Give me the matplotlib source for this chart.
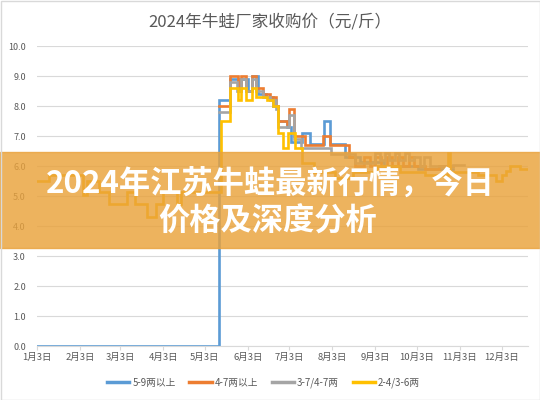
import numpy as np
import pandas as pd
import matplotlib
matplotlib.use('Agg')
import matplotlib.pyplot as plt
from matplotlib.patches import Rectangle
from matplotlib.lines import Line2D

plt.rcParams['font.family'] = ['Noto Sans CJK SC', 'DejaVu Sans']

title = '2024年牛蛙厂家收购价（元/斤）'
banner_line1 = '2024年江苏牛蛙最新行情，今日'
banner_line2 = '价格及深度分析'
series_names = ['5-9两以上', '4-7两以上', '3-7/4-7两', '2-4/3-6两']
colors = ['#5B9BD5', '#ED7D31', '#A5A5A5', '#FFC000']
tick_months = list(range(1, 13))

# days counted from Jan 3 where the price changes, and the new price
blue_days = [0, 131, 139, 145, 147, 152, 155, 159, 165, 170, 174, 180, 183,
             191, 197, 207, 211, 222, 233, 250, 275, 300]
blue_vals = [0.0, 8.2, 8.9, 8.5, 8.9, 8.5, 9.0, 8.4, 8.3, 8.0, 7.5, 7.3, 6.8,
             7.1, 6.75, 7.5, 6.75, 6.3, 6.15, 6.0, 5.9, 5.9]

orange_days = [131, 139, 145, 147, 151, 155, 158, 163, 168, 172, 174, 180, 182,
               185, 193, 206, 211, 225, 229, 236, 240, 244, 248, 252, 256, 260,
               264, 268, 272, 280, 290, 300]
orange_vals = [8.0, 9.0, 8.5, 9.0, 8.5, 9.0, 8.6, 8.4, 8.3, 8.0, 7.5, 7.4, 7.9,
               7.0, 6.7, 7.0, 6.7, 6.3, 6.0, 6.3, 6.0, 6.3, 6.0, 6.3, 6.0, 6.3,
               6.0, 6.3, 6.0, 5.9, 6.0, 6.0]

gray_days = [131, 139, 144, 147, 151, 155, 158, 163, 168, 172, 174, 180, 182,
             185, 190, 212, 229, 244, 247, 251, 254, 258, 261, 265, 268, 272,
             276, 279, 283, 290, 300, 308]
gray_vals = [7.8, 8.8, 8.5, 8.9, 8.5, 8.9, 8.5, 8.3, 8.2, 7.9, 7.3, 7.3, 7.7,
             6.9, 6.6, 6.4, 6.1, 6.45, 6.2, 6.45, 6.2, 6.45, 6.2, 6.45, 6.2, 6.3,
             6.0, 6.3, 6.0, 6.0, 6.05, 6.05]

yellow_days = [0, 9, 33, 36, 45, 52, 65, 71, 79, 86, 91, 101, 104, 133, 139,
               145, 147, 151, 155, 158, 166, 170, 174, 177, 181, 186, 191, 200,
               215, 228, 245, 262, 280, 296, 298, 318, 331, 335, 338, 341, 348,
               354]
yellow_vals = [5.5, 5.7, 5.05, 5.5, 5.15, 4.75, 5.15, 4.75, 4.3, 4.75, 5.15,
               4.75, 5.15, 7.5, 8.6, 8.2, 8.6, 8.2, 8.6, 8.3, 8.2, 8.0, 7.1, 6.6,
               7.1, 6.6, 6.1, 5.8, 5.6, 5.8, 6.0, 5.8, 5.7, 6.45, 5.8, 5.7, 5.5,
               5.7, 5.85, 6.0, 5.9, 5.9]

start = pd.Timestamp('2024-01-03')
def to_dates(days):
    return start + pd.to_timedelta(days, unit='D')

fig = plt.figure(figsize=(5.4, 4.0), dpi=100)
ax = fig.add_axes([37 / 540, 1 - 346 / 400, (528 - 37) / 540, 300 / 400])

all_days = [blue_days, orange_days, gray_days, yellow_days]
all_vals = [blue_vals, orange_vals, gray_vals, yellow_vals]
for d, v, c, name in zip(all_days, all_vals, colors, series_names):
    ax.step(to_dates(d), v, where='post', color=c, lw=1.9, label=name,
            solid_joinstyle='miter')

ax.set_ylim(0, 10)
ax.set_yticks(np.arange(0, 10.5, 1.0))
ax.set_yticklabels(['%.1f' % t for t in np.arange(0, 10.5, 1.0)])
ax.set_xlim(start, start + pd.Timedelta(days=354))
ticks = [pd.Timestamp(2024, m, 3) for m in tick_months]
ax.set_xticks(ticks)
ax.set_xticklabels(['%d月3日' % m for m in tick_months])
ax.grid(axis='y', color='#D9D9D9', lw=0.8)
ax.set_axisbelow(True)
for s in ['top', 'right', 'left']:
    ax.spines[s].set_visible(False)
ax.spines['bottom'].set_color('#D9D9D9')
ax.tick_params(axis='y', length=0, pad=8, labelsize=6.5, labelcolor='#595959')
ax.tick_params(axis='x', length=3, color='#D9D9D9', pad=2, labelsize=6.8,
               labelcolor='#595959')

fig.text(0.5, 1 - 22 / 400, title, ha='center', va='center', fontsize=12,
         color='#595959')

handles = [Line2D([], [], color=c, lw=2.5) for c in colors]
fig.legend(handles, series_names, ncol=4, loc='center',
           bbox_to_anchor=(0.488, 1 - 383 / 400), frameon=False, fontsize=7,
           labelcolor='#595959', handlelength=2.3, handletextpad=0.3,
           columnspacing=1.4)

# overlay banner
fig.patches.append(Rectangle((0, 1 - 248 / 400), 1, 96 / 400,
                             transform=fig.transFigure, color='#E9A23B',
                             alpha=0.82, zorder=5))
fig.text(0.5, 1 - 185 / 400, banner_line1, ha='center', va='center',
         fontsize=22.5, fontweight='bold', color='white', zorder=6)
fig.text(0.495, 1 - 222 / 400, banner_line2, ha='center', va='center',
         fontsize=22.5, fontweight='bold', color='white', zorder=6)

fig.patches.append(Rectangle((0.5 / 540, 0.5 / 400), 539 / 540, 399 / 400,
                             transform=fig.transFigure, fill=False,
                             edgecolor='#D9D9D9', lw=1, zorder=7))

fig.savefig('out.png', dpi=100)
